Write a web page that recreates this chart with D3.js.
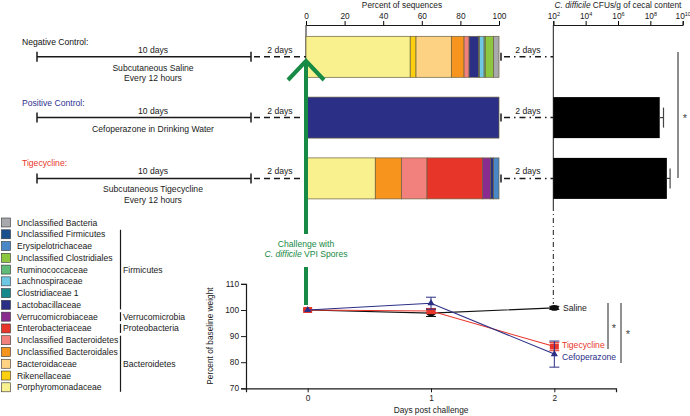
<!DOCTYPE html>
<html><head><meta charset="utf-8">
<script src="https://cdn.jsdelivr.net/npm/d3@7"></script>
<style>
html,body{margin:0;padding:0;background:#fff;}
svg{display:block;font-family:"Liberation Sans",Arial,sans-serif;}
</style></head>
<body><svg id="c" width="690" height="416"></svg>
<script>
// ---------- DATA ----------
const taxa = ["Unclassified Bacteria","Unclassified Firmicutes","Erysipelotrichaceae","Unclassified Clostridiales","Ruminococcaceae","Lachnospiraceae","Clostridiaceae 1","Lactobacillaceae","Verrucomicrobiaceae","Enterobacteriaceae","Unclassified Bacteroidetes","Unclassified Bacteroidales","Bacteroidaceae","Rikenellaceae","Porphyromonadaceae"];
const taxaColors = ["#a7a9ac","#1c4f8e","#4a87c7","#8dc63f","#5fbb77","#6fc8e3","#15898c","#2b2f86","#8a2b8f","#e8352a","#f2807c","#f7941d","#fdd283","#fcd00f","#f8f18e"];
const groups = ["Negative Control","Positive Control","Tigecycline"];
const negComp = [2.9,0,0,4.2,0.6,2.4,0.4,5.0,0,0,2.6,6.6,18.3,3.0,54.0];
const posComp = [0,0,0,0,0,0,0,100,0,0,0,0,0,0,0];
const tigComp = [0,0,2.8,0,0,0,0,1.5,4.3,28.7,13.3,13.5,0,0,35.9];
const pctTicks = [0,20,40,60,80,100];
const cfuMean = [null, 3.8e8, 1.05e9];
const cfuUpper = [null, 6.5e8, 1.66e9];
const cfuTicks = [1e2,1e4,1e6,1e8,1e10];
const phyla = ["Firmicutes","Verrucomicrobia","Proteobacteria","Bacteroidetes"];
const phylumFirst = [1,8,9,10];
const phylumLast = [7,8,9,14];
const days = [0,1,2];
const wSaline = [100,98.8,100.8], wSalineErr = [0,1.3,0.6];
const wTig = [100,99.6,86.0], wTigErr = [0,1.0,1.6];
const wCef = [100,102.6,83.1], wCefErr = [0,2.3,5.0];
const wTicks = [70,80,90,100,110];

// ---------- SETUP ----------
const svg = d3.select("#c");
const FONT = 8.6, AXF = 8.3;
const ink = "#1a1a1a", navy = "#2e3192", red = "#e8352a", green = "#178a45";

const xPct = d3.scaleLinear([0,100],[306,499]);
const xCfu = d3.scaleLog([1e2,1e10],[553.3,682.7]);
const yRow = d3.scalePoint(groups,[56.8,178.4]);
const barH = 41;
const AX_Y = 25;

// ---------- TITLES ----------
svg.append("text").attr("x",402).attr("y",7.5).attr("text-anchor","middle").attr("font-size",AXF).attr("fill",ink).text("Percent of sequences");
const ct = svg.append("text").attr("x",618).attr("y",7.5).attr("text-anchor","middle").attr("font-size",AXF).attr("fill",ink);
ct.append("tspan").attr("font-style","italic").text("C. difficile");
ct.append("tspan").text(" CFUs/g of cecal content");

// ---------- PERCENT AXIS ----------
const gPA = svg.append("g").attr("transform",`translate(0,${AX_Y})`)
  .call(d3.axisTop(xPct).tickValues(pctTicks).tickSize(4).tickPadding(2));
gPA.selectAll("text").attr("font-size",AXF).attr("font-family","Liberation Sans, Arial, sans-serif").attr("fill",ink);
gPA.select(".domain").attr("stroke",ink);
svg.append("line").attr("x1",xPct(0)).attr("x2",xPct(0)).attr("y1",AX_Y).attr("y2",200).attr("stroke",ink);

// ---------- STACKED BARS ----------
const comps = [negComp,posComp,tigComp];
comps.forEach((comp,gi)=>{
  const order = d3.range(taxa.length).reverse();
  let acc = 0;
  order.forEach(i=>{
    const v = comp[i];
    if(v<=0) return;
    svg.append("rect")
      .attr("x",xPct(acc)).attr("width",xPct(acc+v)-xPct(acc))
      .attr("y",yRow(groups[gi])-barH/2).attr("height",barH)
      .attr("fill",taxaColors[i]).attr("stroke","#6b6040").attr("stroke-width",0.7);
    acc += v;
  });
});

// ---------- CFU AXIS ----------
const gCA = svg.append("g").attr("transform",`translate(0,${AX_Y})`)
  .call(d3.axisTop(xCfu).tickValues(cfuTicks).tickSize(4).tickPadding(2).tickFormat(()=>""));
gCA.select(".domain").attr("stroke",ink);
gCA.selectAll(".tick text").each(function(d){
  const t = d3.select(this).attr("font-size",AXF).attr("font-family","Liberation Sans, Arial, sans-serif").attr("fill",ink);
  t.append("tspan").text("10");
  t.append("tspan").attr("dy",-3).attr("font-size",5.5).text(Math.round(Math.log10(d)));
});
svg.append("line").attr("x1",xCfu(1e2)).attr("x2",xCfu(1e2)).attr("y1",AX_Y).attr("y2",206).attr("stroke",ink);
svg.append("line").attr("x1",xCfu(1e2)).attr("x2",xCfu(1e2)).attr("y1",206).attr("y2",304)
  .attr("stroke",ink).attr("stroke-dasharray","5,3,1,3");

// CFU bars
groups.forEach((g,gi)=>{
  if(cfuMean[gi]==null) return;
  const yc = yRow(g);
  svg.append("rect").attr("x",xCfu(1e2)).attr("width",xCfu(cfuMean[gi])-xCfu(1e2))
    .attr("y",yc-barH/2).attr("height",barH).attr("fill","#000");
  svg.append("line").attr("x1",xCfu(cfuMean[gi])).attr("x2",xCfu(cfuUpper[gi])).attr("y1",yc).attr("y2",yc).attr("stroke","#444").attr("stroke-width",1.2);
  svg.append("line").attr("x1",xCfu(cfuUpper[gi])).attr("x2",xCfu(cfuUpper[gi])).attr("y1",yc-10).attr("y2",yc+10).attr("stroke","#444").attr("stroke-width",1.2);
});
svg.append("line").attr("x1",678).attr("x2",678).attr("y1",52).attr("y2",178).attr("stroke","#666").attr("stroke-width",1.5);
svg.append("text").attr("x",685).attr("y",122).attr("text-anchor","middle").attr("font-size",11).attr("fill","#444").text("*");

// ---------- TIMELINES ----------
const rowLabels = ["Negative Control:","Positive Control:","Tigecycline:"];
const rowColors = ["#111",navy,red];
const rowSub = [["Subcutaneous Saline","Every 12 hours"],["Cefoperazone in Drinking Water"],["Subcutaneous Tigecycline","Every 12 hours"]];
groups.forEach((g,gi)=>{
  const y = yRow(g);
  const L = svg.append("g").attr("font-size",FONT).attr("fill",ink);
  L.append("text").attr("x",22).attr("y",y-12).attr("fill",rowColors[gi]).text(rowLabels[gi]);
  L.append("text").attr("x",153).attr("y",y-4).attr("text-anchor","middle").text("10 days");
  L.append("text").attr("x",280).attr("y",y-4).attr("text-anchor","middle").text("2 days");
  L.append("text").attr("x",528).attr("y",y-4).attr("text-anchor","middle").text("2 days");
  rowSub[gi].forEach((s,k)=>{
    L.append("text").attr("x",153).attr("y",y+14+k*10.5).attr("text-anchor","middle").text(s);
  });
  const ln = (x1,y1,x2,y2,dash)=>{
    const l = svg.append("line").attr("x1",x1).attr("y1",y1).attr("x2",x2).attr("y2",y2).attr("stroke",ink).attr("stroke-width",1.5);
    if(dash) l.attr("stroke-dasharray",dash);
    return l;
  };
  ln(37,y,251,y);
  ln(37,y-5,37,y+5);
  ln(251,y-5,251,y+5);
  ln(254,y,306,y,"6,4");
  ln(501,y-4,501,y+4);
  ln(504,y,553,y,"6,4,1.5,4");
});

// ---------- GREEN ARROW ----------
svg.append("line").attr("x1",306).attr("x2",306).attr("y1",62).attr("y2",234).attr("stroke",green).attr("stroke-width",4);
svg.append("line").attr("x1",306).attr("x2",306).attr("y1",267).attr("y2",305).attr("stroke",green).attr("stroke-width",4);
svg.append("path").attr("d","M288,80 L306,61 L324,80").attr("fill","none").attr("stroke",green).attr("stroke-width",4);
svg.append("text").attr("x",306).attr("y",247).attr("text-anchor","middle").attr("font-size",FONT).attr("fill",green).text("Challenge with");
const ch2 = svg.append("text").attr("x",306).attr("y",257).attr("text-anchor","middle").attr("font-size",FONT).attr("fill",green);
ch2.append("tspan").attr("font-style","italic").text("C. difficile");
ch2.append("tspan").text(" VPI Spores");

// ---------- LEGEND ----------
const yLeg = d3.scalePoint(taxa,[222.5,387.3]);
taxa.forEach((t,i)=>{
  svg.append("rect").attr("x",1.5).attr("y",yLeg(t)-4.5).attr("width",9).attr("height",9)
    .attr("fill",taxaColors[i]).attr("stroke","#333").attr("stroke-width",0.6);
  svg.append("text").attr("x",17).attr("y",yLeg(t)+3).attr("font-size",FONT).attr("fill",ink).text(t);
});
phyla.forEach((p,i)=>{
  const y1 = yLeg(taxa[phylumFirst[i]])-4.5, y2 = yLeg(taxa[phylumLast[i]])+4.5;
  svg.append("line").attr("x1",120.5).attr("x2",120.5).attr("y1",y1).attr("y2",y2).attr("stroke",ink).attr("stroke-width",1.2);
  svg.append("text").attr("x",123).attr("y",(y1+y2)/2+3).attr("font-size",FONT).attr("fill",ink).text(p);
});

// ---------- WEIGHT CHART ----------
const xW = d3.scaleLinear([-0.5,2.5],[246,616]);
const yW = d3.scaleLinear([70,110],[388.3,283.9]);
const gX = svg.append("g").attr("transform",`translate(0,${yW(70)})`)
  .call(d3.axisBottom(xW).tickValues(days).tickSize(4).tickPadding(3).tickFormat(d3.format("d")));
const gY = svg.append("g").attr("transform",`translate(${xW(-0.5)},0)`)
  .call(d3.axisLeft(yW).tickValues(wTicks).tickSize(5).tickPadding(2));
[gX,gY].forEach(g=>{
  g.selectAll("text").attr("font-size",AXF).attr("font-family","Liberation Sans, Arial, sans-serif").attr("fill",ink);
  g.selectAll("line,path").attr("stroke",ink);
  g.select(".domain").attr("stroke-width",1.2);
});
svg.append("text").attr("x",431).attr("y",413).attr("text-anchor","middle").attr("font-size",AXF).attr("fill",ink).text("Days post challenge");
svg.append("text").attr("transform",`translate(213,${yW(90)}) rotate(-90)`).attr("text-anchor","middle").attr("font-size",AXF).attr("fill",ink).text("Percent of baseline weight");

const series = [
  {name:"Saline", vals:wSaline, err:wSalineErr, color:"#111", sym:"circle"},
  {name:"Tigecycline", vals:wTig, err:wTigErr, color:red, sym:"square"},
  {name:"Cefoperazone", vals:wCef, err:wCefErr, color:"#2b2f86", sym:"triangle"}
];
const line = d3.line().x((d,i)=>xW(days[i])).y(d=>yW(d));
series.forEach(s=>{
  svg.append("path").attr("d",line(s.vals)).attr("fill","none").attr("stroke",s.color).attr("stroke-width",1.1);
  s.vals.forEach((v,i)=>{
    const x = xW(days[i]);
    if(s.err[i]>0){
      svg.append("line").attr("x1",x).attr("x2",x).attr("y1",yW(v-s.err[i])).attr("y2",yW(v+s.err[i])).attr("stroke",s.color).attr("stroke-width",1);
      [v-s.err[i],v+s.err[i]].forEach(e=>svg.append("line").attr("x1",x-5).attr("x2",x+5).attr("y1",yW(e)).attr("y2",yW(e)).attr("stroke",s.color).attr("stroke-width",1));
    }
    if(s.sym==="circle") svg.append("ellipse").attr("cx",x).attr("cy",yW(v)).attr("rx",4.5).attr("ry",2.8).attr("fill",s.color);
    else if(s.sym==="square") svg.append("rect").attr("x",x-4.5).attr("y",yW(v)-3).attr("width",9).attr("height",6).attr("fill",s.color);
    else svg.append("path").attr("d",d3.symbol(d3.symbolTriangle,22)()).attr("transform",`translate(${x},${yW(v)})`).attr("fill",s.color);
  });
});
svg.append("text").attr("x",563).attr("y",yW(wSaline[2])+3).attr("font-size",FONT).attr("fill",ink).text("Saline");
svg.append("text").attr("x",562).attr("y",yW(wTig[2])+1).attr("font-size",FONT).attr("fill",red).text("Tigecycline");
svg.append("text").attr("x",562).attr("y",yW(wCef[2])+6).attr("font-size",FONT).attr("fill","#2b2f86").text("Cefoperazone");
svg.append("line").attr("x1",608).attr("x2",608).attr("y1",303).attr("y2",349).attr("stroke","#555").attr("stroke-width",1.3);
svg.append("line").attr("x1",621).attr("x2",621).attr("y1",303).attr("y2",363).attr("stroke","#555").attr("stroke-width",1.3);
svg.append("text").attr("x",614).attr("y",332).attr("text-anchor","middle").attr("font-size",11).attr("fill","#444").text("*");
svg.append("text").attr("x",628).attr("y",338).attr("text-anchor","middle").attr("font-size",11).attr("fill","#444").text("*");
</script></body></html>
